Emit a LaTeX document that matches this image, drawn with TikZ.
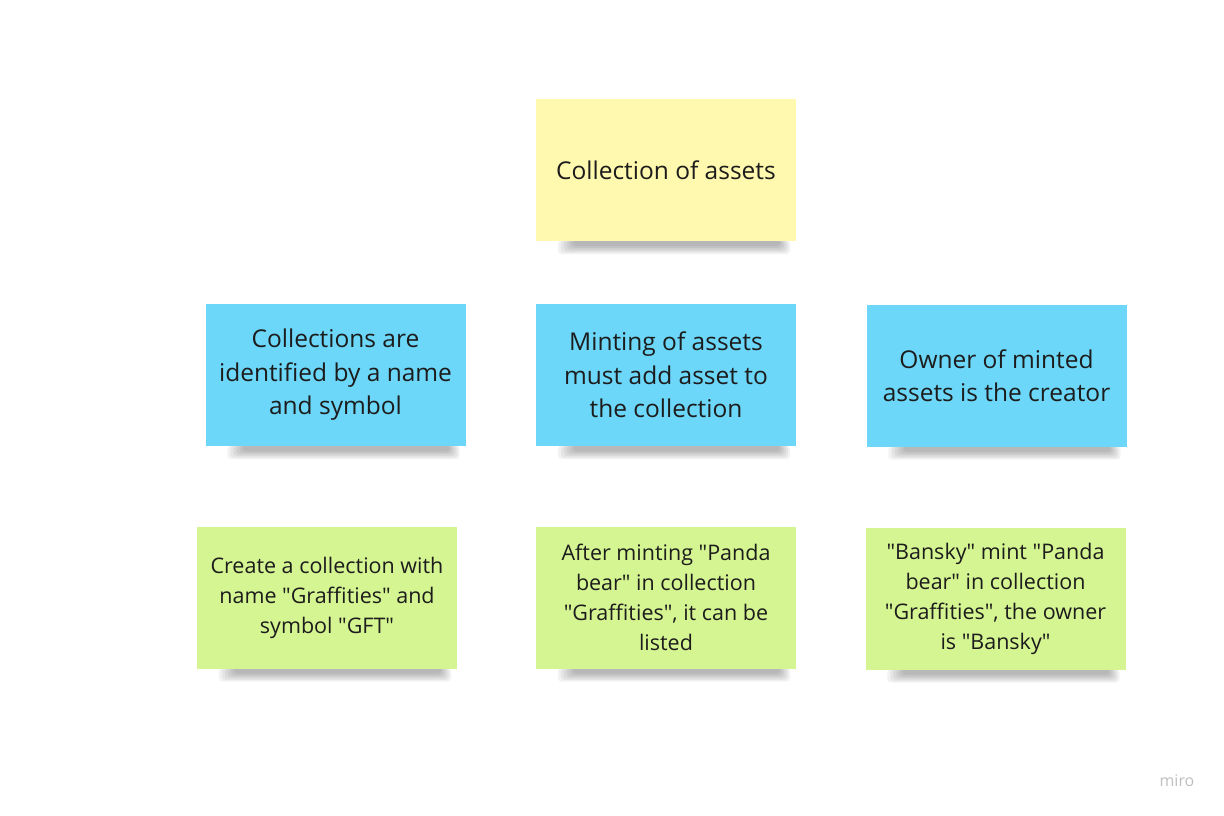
\documentclass[tikz,border=0pt]{standalone}
\usepackage{fontspec}
\setmainfont{Open Sans}
\usetikzlibrary{calc,backgrounds}
\definecolor{noteyellow}{HTML}{FFF8AF}
\definecolor{noteblue}{HTML}{6CD7F9}
\definecolor{notegreen}{HTML}{D5F592}
\definecolor{inkgray}{HTML}{1C1C1C}
\newcommand{\dq}{\textquotedbl}
\tikzset{
  note/.style={minimum width=260, minimum height=142, inner sep=0pt,
    align=center, text=inkgray},
  bignote/.style={note, font=\fontsize{24.5}{33.5}\selectfont},
  smallnote/.style={note, font=\fontsize{21.5}{30}\selectfont}
}
\newcommand{\noteshadow}[1]{%
  \foreach \k in {0,...,5}
    \fill[black,opacity=0.05,rounded corners=4]
      ($(#1.south west)+(22+3*\k,-1)$) rectangle ($(#1.south east)+(-6-2*\k,{13-1.6*\k})$);
}

\begin{document}
\begin{tikzpicture}[x=1pt,y=-1pt]
\useasboundingbox (0,0) rectangle (1224,816);
% topic
\node[bignote,fill=noteyellow] (topic) at (666,170) {Collection of assets};
% rules
\node[bignote,fill=noteblue] (rule1) at (335.5,375) {Collections are\\identified by a name\\and symbol};
\node[bignote,fill=noteblue] (rule2) at (666,375) {Minting of assets\\must add asset to\\the collection};
\node[bignote,fill=noteblue] (rule3) at (996.5,375.5) {Owner of minted\\assets is the creator};
% examples
\node[smallnote,fill=notegreen] (ex1) at (327,597.5) {Create a collection with\\name \dq Graffities\dq\ and\\symbol \dq GFT\dq};
\node[smallnote,fill=notegreen] (ex2) at (666,597.5) {After minting \dq Panda\\bear\dq\ in collection\\\dq Graffities\dq, it can be\\listed};
\node[smallnote,fill=notegreen] (ex3) at (995.5,598.5) {\dq Bansky\dq\ mint \dq Panda\\bear\dq\ in collection\\\dq Graffities\dq, the owner\\is \dq Bansky\dq};
\begin{scope}[on background layer]
\fill[white] (0,0) rectangle (1224,816);
\foreach \n in {topic,rule1,rule2,rule3,ex1,ex2,ex3} {\noteshadow{\n}}
\end{scope}
\node[text=black!25,font=\fontsize{16}{16}\selectfont] (logo) at (1177,781) {miro};
\end{tikzpicture}
\end{document}
